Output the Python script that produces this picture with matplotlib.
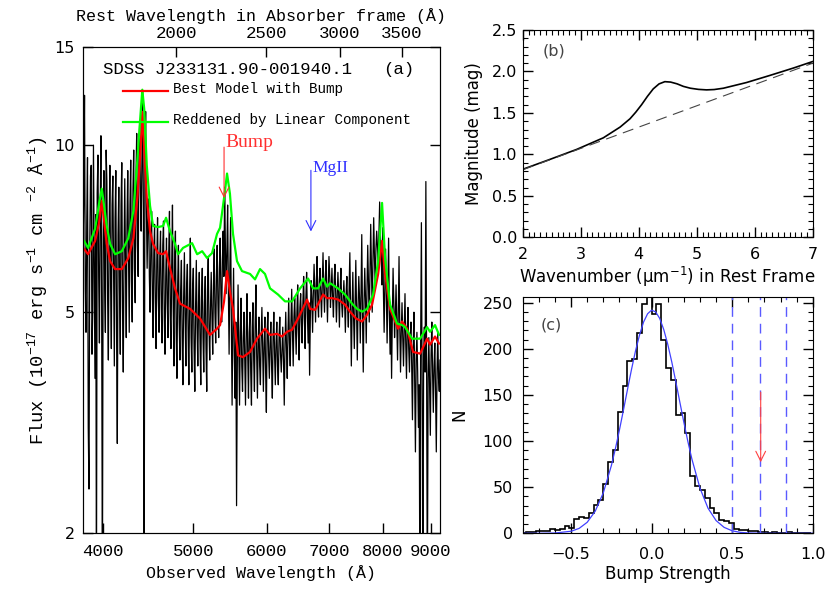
import numpy as np
import matplotlib
matplotlib.use("Agg")
import matplotlib.pyplot as plt
from matplotlib.ticker import FixedLocator, FixedFormatter, NullLocator, MultipleLocator

plt.rcParams['mathtext.default'] = 'regular'
MONO = 'Liberation Mono'
SANS = 'DejaVu Sans'
SERIF = 'Liberation Serif'

# ---------------- panel (a): spectrum ----------------
z_abs = 1.396                     # absorber redshift (rest = obs/(1+z))
loglam0, loglam1 = 3.5805, 3.9644  # log-uniform pixel grid, like SDSS
# even pixels (envelope) and odd pixels (in between)
flux_a = [6.5, 12.3, 4.6, 9.5, 2.4, 8.8, 4.2, 10.0, 3.8, 1.5,
          9.6, 4.4, 10.4, 1.5, 9.0, 4.6, 8.6, 4.1, 9.2, 4.3,
          8.8, 4.0, 9.0, 2.9, 8.4, 4.2, 9.3, 3.9, 8.7, 4.5,
          9.0, 4.6, 9.4, 4.8, 9.8, 5.2, 10.5, 5.8, 11.0, 7.0,
          12.5, 1.5, 11.5, 6.0, 8.0, 5.0, 7.6, 4.5, 7.2, 4.3,
          7.4, 4.6, 7.0, 4.4, 7.3, 4.2, 6.8, 4.5, 7.6, 4.3,
          7.8, 4.0, 7.0, 3.8, 6.6, 4.1, 6.2, 3.7, 6.4, 4.0,
          6.1, 3.7, 6.8, 3.9, 6.0, 3.6, 6.2, 4.0, 5.9, 3.7,
          6.0, 3.9, 5.8, 3.6, 6.3, 4.1, 5.9, 4.2, 6.5, 4.4,
          6.6, 4.5, 6.8, 4.8, 7.0, 8.4, 5.4, 7.8, 4.2, 7.4,
          3.4, 6.0, 3.5, 2.24, 5.6, 3.4, 5.3, 3.6, 5.0, 3.4,
          5.4, 3.5, 5.0, 3.4, 5.2, 3.6, 5.6, 3.5, 4.9, 3.7,
          5.1, 3.6, 4.9, 3.3, 5.0, 3.8, 4.8, 3.5, 5.0, 3.7,
          4.8, 3.7, 4.9, 3.9, 4.7, 3.4, 5.0, 3.8, 5.3, 4.0,
          5.5, 4.0, 5.3, 4.2, 5.6, 4.1, 5.4, 4.4, 5.8, 4.3,
          5.9, 4.4, 3.85, 5.7, 4.6, 6.1, 4.8, 6.3, 4.9, 6.0,
          4.9, 6.4, 5.0, 6.2, 4.8, 6.3, 5.1, 6.0, 4.9, 6.1,
          4.8, 5.9, 4.7, 6.0, 4.9, 5.7, 4.6, 5.8, 4.7, 6.4,
          4.0, 5.9, 4.3, 6.2, 4.1, 5.8, 4.4, 6.9, 3.9, 6.0,
          4.4, 6.6, 4.8, 7.2, 5.0, 7.4, 5.6, 7.0, 6.0, 7.9,
          6.4, 7.1, 4.6, 6.5, 4.4, 6.8, 4.2, 3.8, 6.0, 4.5,
          5.6, 4.1, 6.3, 3.9, 5.2, 4.0, 5.4, 3.8, 5.1, 3.9,
          4.8, 3.2, 5.0, 2.8, 4.6, 3.1, 1.5, 7.25, 1.5, 4.7,
          8.6, 1.5, 4.5, 3.0, 4.8, 3.3, 4.4, 2.8, 4.6, 3.6]
flux_b = [8.0, 5.5, 7.2, 3.1, 6.5, 9.2, 5.0, 6.2, 7.5, 8.2,
          5.8, 7.4, 5.2, 6.8, 5.6, 9.8, 5.3, 7.0, 5.6, 7.8,
          5.9, 7.4, 4.6, 6.9, 5.5, 7.8, 5.1, 6.4, 6.0, 7.2,
          6.4, 7.8, 5.7, 8.3, 6.0, 8.7, 6.6, 9.6, 8.2, 9.4,
          7.5, 9.0, 7.8, 7.3, 5.8, 6.6, 5.4, 6.4, 5.2, 6.2,
          5.3, 6.3, 5.1, 6.6, 4.9, 5.8, 5.2, 6.4, 5.0, 6.1,
          5.1, 6.4, 4.6, 5.6, 4.8, 5.5, 4.5, 5.3, 4.9, 5.6,
          4.6, 5.4, 4.5, 5.5, 4.3, 5.1, 4.7, 5.2, 4.4, 5.3,
          4.5, 5.2, 4.3, 5.5, 4.7, 5.1, 4.9, 5.6, 5.0, 5.8,
          5.2, 6.0, 5.4, 6.2, 5.8, 6.6, 6.4, 5.5, 6.0, 4.8,
          4.7, 4.2, 4.8, 4.0, 4.3, 4.6, 4.0, 4.5, 4.1, 4.6,
          4.2, 4.6, 3.9, 4.7, 4.1, 4.8, 4.2, 4.4, 4.0, 4.5,
          4.3, 4.4, 3.9, 4.6, 4.2, 4.4, 4.0, 4.5, 4.2, 4.4,
          4.0, 4.5, 4.2, 4.3, 4.1, 4.4, 4.3, 4.6, 4.4, 4.8,
          4.6, 4.9, 4.7, 5.0, 4.6, 5.1, 4.8, 5.2, 4.9, 5.3,
          5.0, 5.2, 4.9, 5.3, 5.4, 5.5, 5.6, 5.2, 5.7, 5.4,
          5.6, 5.5, 5.7, 5.4, 5.6, 5.8, 5.5, 5.3, 5.7, 5.4,
          5.3, 5.4, 5.5, 5.2, 5.3, 5.2, 5.4, 5.1, 5.5, 5.0,
          5.0, 4.9, 5.2, 5.0, 5.1, 5.3, 5.4, 4.9, 5.2, 5.3,
          5.5, 5.6, 5.8, 6.0, 6.2, 6.3, 6.5, 6.6, 6.9, 6.8,
          5.6, 5.5, 5.6, 5.3, 5.5, 5.0, 5.1, 4.9, 5.2, 4.9,
          4.8, 5.0, 4.7, 4.6, 4.5, 4.7, 4.4, 4.6, 4.3, 4.5,
          4.0, 4.3, 3.8, 4.1, 3.9, 3.7, 4.4, 3.6, 4.2, 3.9,
          4.0, 3.8, 3.7, 4.2, 3.9, 4.0, 3.6, 3.9, 3.8, 4.1]
flux = np.column_stack([flux_a, flux_b]).ravel()
wave = np.logspace(loglam0, loglam1, len(flux))

bump_wave = [3816, 3854, 3922, 3960, 3987, 4037, 4070, 4121, 4190, 4258,
             4312, 4354, 4384, 4408, 4430, 4457, 4493, 4527, 4583, 4640,
             4675, 4721, 4780, 4840, 4962, 5086, 5213, 5304, 5344, 5397,
             5437, 5476, 5518, 5587, 5656, 5756, 5856, 5973, 6048, 6153,
             6230, 6308, 6387, 6482, 6629, 6678, 6762, 6896, 6964, 7051,
             7156, 7282, 7374, 7484, 7596, 7691, 7787, 7904, 7981, 8041,
             8141, 8304, 8387, 8491, 8618, 8770, 8922, 8988, 9100, 9191]
bump_flux = [6.50, 6.36, 6.72, 7.24, 7.94, 6.64, 6.18, 5.98, 5.98, 6.26,
             6.80, 8.04, 9.51, 11.48, 9.79, 8.04, 7.00, 6.64, 6.39, 6.36,
             6.44, 6.00, 5.52, 5.18, 5.07, 4.87, 4.55, 4.67, 4.74, 5.23,
             5.93, 5.45, 5.07, 4.18, 4.15, 4.24, 4.48, 4.67, 4.55, 4.57,
             4.52, 4.61, 4.65, 4.87, 5.27, 5.07, 5.05, 5.38, 5.30, 5.30,
             5.27, 5.16, 5.01, 4.87, 4.81, 4.95, 5.16, 5.86, 6.72, 5.86,
             5.07, 4.67, 4.81, 4.67, 4.24, 4.21, 4.48, 4.37, 4.52, 4.39]

lin_wave = [3816, 3854, 3922, 3960, 3987, 4037, 4070, 4121, 4190, 4258,
            4312, 4354, 4384, 4408, 4430, 4457, 4493, 4527, 4583, 4640,
            4675, 4721, 4780, 4816, 4876, 4986, 5049, 5112, 5175, 5239,
            5304, 5344, 5410, 5437, 5476, 5518, 5573, 5642, 5756, 5827,
            5900, 5973, 6048, 6169, 6277, 6387, 6515, 6645, 6728, 6812,
            6896, 6964, 7017, 7156, 7282, 7410, 7503, 7596, 7691, 7805,
            7904, 7981, 8041, 8141, 8283, 8387, 8449, 8597, 8770, 8922,
            8988, 9100, 9191]
lin_flux = [6.72, 6.53, 7.07, 7.84, 8.35, 7.15, 6.64, 6.36, 6.44, 6.80,
            7.62, 9.39, 11.10, 12.59, 11.58, 9.20, 7.78, 7.15, 7.12, 7.15,
            7.40, 7.00, 6.64, 6.36, 6.53, 6.66, 6.36, 6.44, 6.26, 6.39,
            6.92, 7.10, 8.28, 8.89, 8.18, 6.92, 6.18, 5.93, 5.86, 5.73,
            5.98, 5.86, 5.52, 5.38, 5.23, 5.23, 5.52, 5.75, 5.52, 5.52,
            5.75, 5.56, 5.64, 5.52, 5.38, 5.18, 5.07, 5.01, 5.07, 5.38,
            6.18, 7.87, 6.26, 5.16, 4.77, 4.74, 4.70, 4.48, 4.48, 4.70,
            4.61, 4.74, 4.55]

obs_ticks = [4000, 5000, 6000, 7000, 8000, 9000]
rest_ticks = [2000, 2500, 3000, 3500]
flux_ticks = [2, 5, 10, 15]

# ---------------- panel (b): extinction ----------------
wn = [2.0, 2.47, 2.93, 3.39, 3.68, 3.85, 3.95, 4.05, 4.15, 4.25, 4.35, 4.45,
      4.55, 4.66, 4.77, 4.89, 5.03, 5.17, 5.30, 5.46, 5.86, 6.26, 6.67, 7.0]
mag_bump = [0.82, 0.94, 1.06, 1.20, 1.33, 1.43, 1.51, 1.60, 1.70, 1.79, 1.85,
            1.877, 1.872, 1.851, 1.82, 1.798, 1.784, 1.778, 1.782, 1.798,
            1.867, 1.952, 2.042, 2.12]
wn_lin = [2.0, 7.0]
mag_lin = [0.815, 2.10]

# ---------------- panel (c): bump strength histogram ----------------
bin_lo, bin_w = -0.81, 0.03
counts = [0, 1, 1, 2, 3, 3, 5, 4, 5, 8, 6, 15, 18, 17, 22, 31, 36, 53, 77, 90,
          132, 160, 187, 189, 217, 249, 262, 238, 249, 210, 179, 166, 128, 130,
          109, 62, 51, 47, 38, 27, 22, 14, 13, 11, 5, 4, 4, 3, 2, 1, 1, 0, 1,
          0, 0, 1, 0, 0, 0, 0]
edges = bin_lo + bin_w * np.arange(len(counts) + 1)
fit_x = [-0.8, -0.7, -0.6, -0.5, -0.45, -0.4, -0.35, -0.3, -0.25, -0.225, -0.2,
         -0.175, -0.15, -0.125, -0.1, -0.075, -0.05, -0.025, 0.0, 0.025, 0.05,
         0.075, 0.1, 0.125, 0.15, 0.175, 0.2, 0.225, 0.25, 0.3, 0.35, 0.4,
         0.45, 0.5, 0.55, 0.6, 0.7, 0.8, 1.0]
fit_n = [0, 0.03, 0.3, 2.2, 5.3, 11.9, 24, 43.8, 73.3, 91.6, 111.8, 133.5,
         155.7, 177.5, 197.7, 215, 229, 238, 241.9, 240, 233, 221, 205, 185.8,
         164.5, 142.3, 120.4, 99.5, 80.4, 49, 27.2, 13.8, 6.4, 2.7, 1.0, 0.36,
         0.03, 0, 0]
limits = [0.50, 0.67, 0.835]
measured = 0.677

RED = '#ff0000'
GREEN = '#00ff00'
BLUE = '#4040ff'

fig = plt.figure(figsize=(8.3, 5.93), dpi=100)

# ---- (a)
ax = fig.add_axes([0.1, 0.1012, 0.4301, 0.8187])
ax.plot(wave, flux, color='black', lw=0.9)
ax.plot(bump_wave, bump_flux, color=RED, lw=1.6)
ax.plot(lin_wave, lin_flux, color=GREEN, lw=1.6)
ax.set_xscale('log')
ax.set_yscale('log')
xlo, xhi = 3806, 9212
ax.set_xlim(xlo, xhi)
ax.set_ylim(2, 15)
ax.xaxis.set_major_locator(FixedLocator(obs_ticks))
ax.xaxis.set_major_formatter(FixedFormatter([str(t) for t in obs_ticks]))
ax.xaxis.set_minor_locator(NullLocator())
ax.yaxis.set_major_locator(FixedLocator(flux_ticks))
ax.yaxis.set_major_formatter(FixedFormatter([str(t) for t in flux_ticks]))
ax.yaxis.set_minor_locator(NullLocator())
ax.tick_params(axis='both', direction='in', length=7, width=1, right=True, top=False)
ax.tick_params(axis='x', pad=8)
ax.tick_params(axis='y', pad=6)
for lab in ax.get_xticklabels():
    lab.set_family(MONO)
    lab.set_fontsize(12.5)
for lab in ax.get_yticklabels():
    lab.set_family(SANS)
    lab.set_fontsize(11.5)
ax.set_xlabel('Observed Wavelength (Å)', family=MONO, fontsize=12, labelpad=4)
ax.set_ylabel('Flux (10$^{-17}$ erg s$^{-1}$ cm $^{-2}$ Å$^{-1}$)',
              family=MONO, fontsize=13.5, labelpad=3)
for sp in ax.spines.values():
    sp.set_color('#333333')

top = ax.twiny()
top.set_xscale('log')
top.set_xlim(xlo / (1 + z_abs), xhi / (1 + z_abs))
top.xaxis.set_major_locator(FixedLocator(rest_ticks))
top.xaxis.set_major_formatter(FixedFormatter([str(t) for t in rest_ticks]))
top.xaxis.set_minor_locator(NullLocator())
top.tick_params(axis='x', direction='in', length=7, width=1, pad=5)
for lab in top.get_xticklabels():
    lab.set_family(MONO)
    lab.set_fontsize(12.5)
top.set_xlabel('Rest Wavelength in Absorber frame (Å)', family=MONO,
               fontsize=12, labelpad=3)

ax.text(0.056, 0.9457, 'SDSS J233131.90-001940.1', transform=ax.transAxes,
        family=MONO, fontsize=12.5, va='baseline')
ax.text(0.84, 0.9457, '(a)', transform=ax.transAxes, family=MONO,
        fontsize=12.5, va='baseline')
ax.plot([0.112, 0.238], [0.910, 0.910], color=RED, lw=1.6, transform=ax.transAxes)
ax.text(0.252, 0.906, 'Best Model with Bump', transform=ax.transAxes,
        family=MONO, fontsize=10.3, va='baseline')
ax.plot([0.112, 0.238], [0.8466, 0.8466], color=GREEN, lw=1.6, transform=ax.transAxes)
ax.text(0.252, 0.842, 'Reddened by Linear Component', transform=ax.transAxes,
        family=MONO, fontsize=10.3, va='baseline')

ax.annotate('', xy=(5397, 8.03), xytext=(5397, 9.92),
            arrowprops=dict(arrowstyle='->,head_length=0.7,head_width=0.35',
                            color='#ff3030', lw=0.8, shrinkA=0, shrinkB=0))
ax.text(5410, 9.92, 'Bump', color='#ff3030', family=SERIF, fontsize=14,
        va='baseline')
ax.annotate('', xy=(6692, 6.99), xytext=(6692, 9.01),
            arrowprops=dict(arrowstyle='->,head_length=0.7,head_width=0.35',
                            color='#3030ff', lw=0.8, shrinkA=0, shrinkB=0))
ax.text(6713, 8.94, 'MgII', color='#3030ff', family=SERIF, fontsize=12.5,
        va='baseline')

# ---- (b)
bx = fig.add_axes([0.6298, 0.5998, 0.3494, 0.3496])
bx.plot(wn, mag_bump, color='black', lw=1.2)
bx.plot(wn_lin, mag_lin, color='#444444', lw=0.8, dashes=(10, 6))
bx.set_xlim(2, 7)
bx.set_ylim(0, 2.5)
bx.xaxis.set_major_locator(MultipleLocator(1))
bx.xaxis.set_minor_locator(MultipleLocator(0.1))
bx.yaxis.set_major_locator(FixedLocator([0, 0.5, 1.0, 1.5, 2.0, 2.5]))
bx.yaxis.set_major_formatter(FixedFormatter(['0.0', '0.5', '1.0', '1.5', '2.0', '2.5']))
bx.yaxis.set_minor_locator(MultipleLocator(0.1))
bx.tick_params(which='both', direction='in', top=True, right=True, labelsize=11.5)
bx.tick_params(which='major', length=7, width=1)
bx.tick_params(which='minor', length=3.5, width=0.8)
bx.tick_params(axis='x', pad=7)
bx.tick_params(axis='y', pad=4)
bx.set_xlabel('Wavenumber ($\\mu m^{-1}$) in Rest Frame', family=SANS,
              fontsize=12, labelpad=2)
bx.set_ylabel('Magnitude (mag)', family=SANS, fontsize=12, labelpad=6)
bx.text(0.07, 0.9, '(b)', transform=bx.transAxes, family=SANS, fontsize=11.5,
        color='#444444', va='center')

# ---- (c)
cx = fig.add_axes([0.6298, 0.1007, 0.3494, 0.399])
cx.stairs(counts, edges, color='black', lw=1.2)
cx.plot(fit_x, fit_n, color=BLUE, lw=0.9)
for v in limits:
    cx.axvline(v, color='#5a5aff', lw=1.0, dashes=(7, 5))
cx.annotate('', xy=(measured, 77), xytext=(measured, 153),
            arrowprops=dict(arrowstyle='->,head_length=0.7,head_width=0.35',
                            color='#ff4040', lw=0.8, shrinkA=0, shrinkB=0))
cx.set_xlim(-0.8, 1.0)
cx.set_ylim(0, 256.5)
cx.xaxis.set_major_locator(FixedLocator([-0.5, 0.0, 0.5, 1.0]))
cx.xaxis.set_major_formatter(FixedFormatter(['\u22120.5', '0.0', '0.5', '1.0']))
cx.xaxis.set_minor_locator(MultipleLocator(0.1))
cx.yaxis.set_major_locator(MultipleLocator(50))
cx.yaxis.set_minor_locator(MultipleLocator(10))
cx.tick_params(which='both', direction='in', top=True, right=True, labelsize=11.5)
cx.tick_params(which='major', length=7, width=1)
cx.tick_params(which='minor', length=3.5, width=0.8)
cx.tick_params(axis='x', pad=10)
cx.tick_params(axis='y', pad=7)
cx.set_xlabel('Bump Strength', family=SANS, fontsize=12, labelpad=2)
cx.set_ylabel('N', family=SANS, fontsize=12, labelpad=10)
cx.text(0.06, 0.88, '(c)', transform=cx.transAxes, family=SANS, fontsize=11.5,
        color='#444444', va='center')

fig.savefig('out.png', dpi=100)
